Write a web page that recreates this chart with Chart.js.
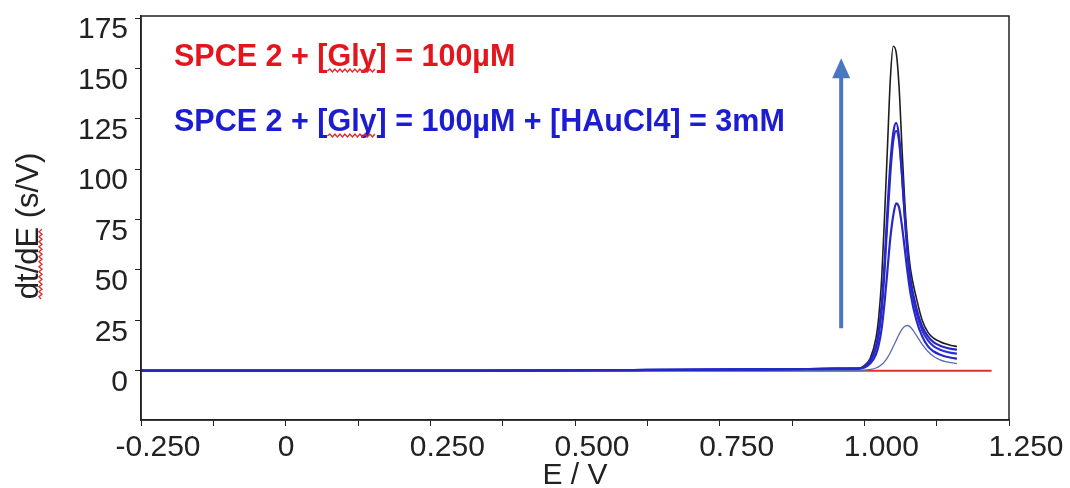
<!DOCTYPE html>
<html>
<head>
<meta charset="utf-8">
<script src="https://cdn.jsdelivr.net/npm/chart.js@4/dist/chart.umd.min.js"></script>
<style>
  html, body { margin: 0; padding: 0; background: #fff; }
  #wrap { width: 1070px; height: 488px; }
</style>
</head>
<body>
<div id="wrap"><canvas id="chart" width="1070" height="488"></canvas></div>
<script>
"use strict";

// potential (V) shared by the recorded curves
const E = [-0.25, 0.35, 0.60, 0.80, 0.90, 0.95, 0.97, 0.98,
    0.99, 1.00, 1.01, 1.02, 1.025, 1.03, 1.035, 1.04, 1.045, 1.05, 1.055, 1.06,
    1.065, 1.07, 1.075, 1.08, 1.09, 1.10, 1.11, 1.12, 1.13, 1.14, 1.15, 1.16];

// dt/dE (s/V)
const curveBlack = [0, 0, 0.3, 0.6, 0.8, 1, 1, 1,
    1, 2.5, 6, 16, 27, 46, 77, 111, 145, 161, 158, 141,
    111, 83, 63, 50, 36, 25, 19, 16, 14.5, 13.3, 12.5, 12];
const curveBlueA = [0, 0, 0.3, 0.6, 0.8, 1, 1, 1,
    1.1, 2, 5, 12, 20, 33, 54, 80, 103, 118, 123, 116,
    98, 76, 58, 45, 31, 22, 17, 14, 12.5, 11.5, 10.8, 10.4];
const curveBlueB = [0, 0, 0.3, 0.6, 0.8, 1, 1, 1,
    1.1, 1.8, 4.5, 11, 18, 30, 50, 75, 98, 114, 119, 114,
    97, 76, 57, 43, 29, 20, 15, 12, 10.5, 9.5, 8.8, 8.4];
const curveBlueC = [0, 0, 0.3, 0.5, 0.7, 0.9, 0.9, 1,
    1, 1.5, 3.5, 8, 13, 21, 34, 50, 66, 77, 83, 81,
    72, 60, 48, 38, 25, 17, 12, 9.5, 8, 7, 6.4, 6];
const curveLight = [0, 0, 0, 0, 0, 0, 0, 0,
    0, 0.2, 0.6, 1.3, 2, 3, 4.5, 6.5, 9, 12, 15, 18,
    20.5, 22, 22.4, 21.5, 17.5, 13, 9.5, 7, 5.5, 4.5, 4, 3.5];

// red reference trace (Gly only)
const redE = [-0.25, 1.22];
const redValues = [0, 0];

// axes
const xMajor = [-0.25, 0, 0.25, 0.5, 0.75, 1.0, 1.25];
const xTickLabels = ["-0.250", "0", "0.250", "0.500", "0.750", "1.000", "1.250"];
const xMinor = [-0.125, 0.125, 0.375, 0.625, 0.875, 1.125];
const yMajor = [0, 25, 50, 75, 100, 125, 150, 175];
const yTickLabels = ["0", "25", "50", "75", "100", "125", "150", "175"];

// arrow (x in V, from / to in s/V)
const arrowE = 0.96;
const arrowFrom = 21;
const arrowTo = 155;

const labelRed = "SPCE 2 + [Gly] = 100µM";
const labelBlue = "SPCE 2 + [Gly] = 100µM + [HAuCl4] = 3mM";

const FONT = "'Liberation Sans', Arial, sans-serif";


function pairs(xs, ys) {
    return xs.map(function(x, i) { return { x: x, y: ys[i] }; });
}

function curve(values, color, width) {
    return {
        data: pairs(E, values),
        borderColor: color,
        borderWidth: width,
        pointRadius: 0,
        cubicInterpolationMode: "monotone",
        fill: false
    };
}

// red spell-check squiggle under a piece of text
function squiggle(ctx, x0, x1, y) {
    ctx.save();
    ctx.strokeStyle = "#e02a2a";
    ctx.lineWidth = 1.3;
    ctx.beginPath();
    let up = true;
    ctx.moveTo(x0, y);
    for (let x = x0 + 2.5; x <= x1; x += 2.5) {
        ctx.lineTo(x, up ? y - 2 : y + 1);
        up = !up;
    }
    ctx.stroke();
    ctx.restore();
}

function labelWithSquiggle(ctx, text, x, y, color) {
    ctx.fillStyle = color;
    ctx.fillText(text, x, y);
    let pre = ctx.measureText("SPCE 2 + [").width;
    let word = ctx.measureText("Gly").width;
    squiggle(ctx, x + pre, x + pre + word, y + 5);
}

const overlay = {
    id: "overlay",
    afterDatasetsDraw(chart) {
        const ctx = chart.ctx;
        const a = chart.chartArea;
        const xs = chart.scales.x;
        const ys = chart.scales.y;

        ctx.save();
        // box round the plot
        ctx.strokeStyle = "#222";
        ctx.lineWidth = 1.5;
        ctx.strokeRect(a.left, a.top, a.right - a.left, a.bottom - a.top);

        // arrow
        let ax = xs.getPixelForValue(arrowE);
        let yFrom = ys.getPixelForValue(arrowFrom);
        let yTip = ys.getPixelForValue(arrowTo);
        ctx.strokeStyle = "#4a78c0";
        ctx.fillStyle = "#4a78c0";
        ctx.lineWidth = 4;
        ctx.beginPath();
        ctx.moveTo(ax, yFrom);
        ctx.lineTo(ax, yTip + 16);
        ctx.stroke();
        ctx.beginPath();
        ctx.moveTo(ax, yTip);
        ctx.lineTo(ax - 9, yTip + 20);
        ctx.lineTo(ax + 9, yTip + 20);
        ctx.closePath();
        ctx.fill();

        // legend-like labels
        ctx.font = "bold 30.5px " + FONT;
        ctx.textBaseline = "alphabetic";
        ctx.textAlign = "left";
        labelWithSquiggle(ctx, labelRed, 174, 66, "#e3161e");
        labelWithSquiggle(ctx, labelBlue, 174, 131, "#1c1cd0");

        // y title
        ctx.translate(29, 226);
        ctx.rotate(-Math.PI / 2);
        ctx.font = "31px " + FONT;
        ctx.fillStyle = "#222";
        ctx.textAlign = "center";
        ctx.textBaseline = "middle";
        let title = "dt/dE (s/V)";
        ctx.fillText(title, 0, 0);
        let w = ctx.measureText(title).width;
        let dw = ctx.measureText("dt/dE").width;
        squiggle(ctx, -w / 2, -w / 2 + dw, 12);
        ctx.restore();
    }
};

const ctx = document.getElementById("chart").getContext("2d");

// first dataset is drawn on top, so the blue traces go first and red last
new Chart(ctx, {
    type: "line",
    data: {
        datasets: [
            curve(curveBlueA, "#2626c4", 2.2),
            curve(curveBlueB, "#2f2fd8", 2.2),
            curve(curveBlueC, "#2828c8", 2.2),
            curve(curveLight, "#5a6cb4", 1.3),
            curve(curveBlack, "#1e1e1e", 1.6),
            {
                data: pairs(redE, redValues),
                borderColor: "#e0302a",
                borderWidth: 2,
                pointRadius: 0,
                fill: false
            }
        ]
    },
    options: {
        responsive: false,
        animation: false,
        layout: { padding: { top: 16, right: 61, left: 0, bottom: 0 } },
        plugins: {
            legend: { display: false },
            tooltip: { enabled: false }
        },
        scales: {
            x: {
                type: "linear",
                min: -0.25,
                max: 1.25,
                afterBuildTicks: function(scale) {
                    scale.ticks = xMajor.concat(xMinor).sort(function(p, q) { return p - q; })
                        .map(function(v) { return { value: v }; });
                },
                afterFit: function(scale) {
                    scale.height = 68;
                    scale.paddingLeft = 0;
                    scale.paddingRight = 0;
                },
                ticks: {
                    autoSkip: false,
                    maxRotation: 0,
                    padding: 4,
                    labelOffset: 17,
                    color: "#222",
                    font: { family: FONT, size: 30 },
                    callback: function(value) {
                        let i = xMajor.indexOf(value);
                        if (i < 0) return "";
                        // labels sit with the decimal point on the tick, so a lone "0" needs trailing room
                        return xTickLabels[i].indexOf(".") < 0 ? xTickLabels[i] + "    " : xTickLabels[i];
                    }
                },
                grid: { display: true, drawOnChartArea: false, tickLength: 6, color: "#222" },
                border: { display: true, color: "#222", width: 1.5 },
                title: {
                    display: true,
                    text: "E / V",
                    color: "#222",
                    font: { family: FONT, size: 30, lineHeight: 0.85 },
                    padding: { top: 0, bottom: 0 }
                }
            },
            y: {
                type: "linear",
                min: -24.5,
                max: 176,
                afterBuildTicks: function(scale) {
                    scale.ticks = yMajor.map(function(v) { return { value: v }; });
                },
                afterFit: function(scale) {
                    scale.width = 141;
                    scale.paddingTop = 0;
                    scale.paddingBottom = 0;
                },
                ticks: {
                    autoSkip: false,
                    padding: 7,
                    labelOffset: 12,
                    color: "#222",
                    font: { family: FONT, size: 30 },
                    callback: function(value) {
                        let i = yMajor.indexOf(value);
                        return i >= 0 ? yTickLabels[i] : "";
                    }
                },
                grid: { display: true, drawOnChartArea: false, tickLength: 6, color: "#222" },
                border: { display: true, color: "#222", width: 1.5 }
            }
        }
    },
    plugins: [overlay]
});
</script>
</body>
</html>
